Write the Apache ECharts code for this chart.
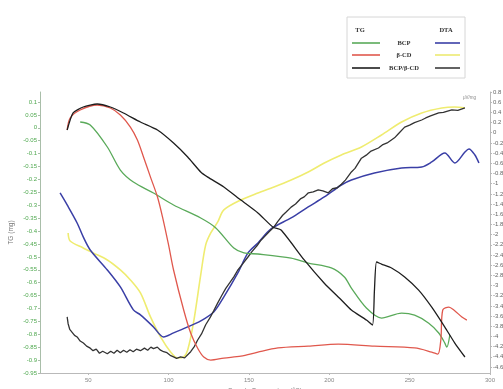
<!DOCTYPE html>
<html>
<head>
<meta charset="utf-8">
<script src="https://cdn.jsdelivr.net/npm/echarts@6/dist/echarts.min.js"></script>
<style>
  html, body { margin: 0; padding: 0; background: #fff; }
  #chart { width: 503px; height: 389px; }
</style>
</head>
<body>
<div id="chart"></div>
<script>
// Temperature ticks (°C)
const tempTicks = [50, 100, 150, 200, 250, 300];

// TG curves: temperature (°C) and mass change (mg)
const tgBcpTemp = [45, 51.25, 61.9, 70, 78.1, 90.6, 103.1, 120, 129.4, 140.6, 146.9, 155.6, 176.25, 186.9, 201.25, 209.4, 213.75, 223.1, 232.5, 245, 253.1, 261.9, 268.1, 271.9, 273.1, 275];
const tgBcpMass = [0.0225, 0.0109, -0.0744, -0.1636, -0.210, -0.2527, -0.299, -0.3496, -0.388, -0.466, -0.485, -0.489, -0.505, -0.524, -0.543, -0.578, -0.621, -0.698, -0.737, -0.718, -0.726, -0.757, -0.795, -0.834, -0.850, -0.803];

const tgCdTemp = [36.9, 38.75, 45, 55.6, 63.75, 70, 76.25, 80.6, 84.4, 88.75, 93.1, 96.25, 100, 103.1, 109.4, 113.75, 118.1, 121.9, 126.25, 134.4, 145, 155.6, 168.1, 186.9, 205.6, 228.1, 253.1, 263.75, 267.5, 269.4, 270.6, 274.4, 277.5, 282.5, 285.6];
const tgCdMass = [-0.0085, 0.038, 0.069, 0.0884, 0.0767, 0.0496, 0.0031, -0.0473, -0.113, -0.191, -0.268, -0.346, -0.454, -0.551, -0.706, -0.795, -0.854, -0.888, -0.900, -0.892, -0.885, -0.869, -0.853, -0.846, -0.838, -0.846, -0.853, -0.869, -0.877, -0.822, -0.706, -0.695, -0.706, -0.733, -0.745];

const tgMixTemp = [36.9, 40.6, 46.9, 55.6, 63.75, 71.9, 82.5, 93.1, 103.1, 111.9, 120, 124.4, 134.4, 145, 155.6, 165, 170, 184.4, 196.9, 207.5, 213.75, 223.1, 226.9, 228.1, 229.4, 232.5, 238.75, 246.9, 255.6, 263.75, 271.9, 278.1, 284.4];
const tgMixMass = [-0.0085, 0.0574, 0.0806, 0.0922, 0.0806, 0.0574, 0.0225, -0.0085, -0.0589, -0.113, -0.171, -0.191, -0.229, -0.280, -0.330, -0.385, -0.396, -0.512, -0.602, -0.667, -0.706, -0.745, -0.764, -0.629, -0.520, -0.528, -0.543, -0.578, -0.629, -0.695, -0.772, -0.834, -0.888];

// DTA curves: temperature (°C) and heat-flow signal (μV/mg)
const dtaBcpTemp = [32.5, 36.9, 43.1, 46.9, 51.25, 61.9, 70, 78.1, 82.5, 90.6, 96.9, 103.1, 111.9, 120, 128.1, 134.4, 143.1, 149.4, 155.6, 163.75, 176.25, 186.9, 196.9, 207.5, 213.75, 228.1, 245, 257.5, 263.75, 271.9, 278.1, 284.4, 286.9, 290.6, 293.1];
const dtaBcpSignal = [-1.183, -1.418, -1.772, -2.046, -2.302, -2.694, -3.028, -3.479, -3.577, -3.813, -4.009, -3.931, -3.813, -3.695, -3.519, -3.224, -2.753, -2.360, -2.164, -1.889, -1.673, -1.457, -1.261, -1.026, -0.927, -0.790, -0.692, -0.672, -0.574, -0.397, -0.594, -0.378, -0.319, -0.437, -0.594];

const dtaCdTemp = [37.5, 38.75, 46.9, 53.1, 61.9, 70, 76.25, 82.5, 88.75, 95, 101.25, 105.6, 109.4, 111.9, 115.6, 120, 123.1, 126.25, 130.6, 134.4, 145, 155.6, 165.6, 176.25, 186.9, 196.9, 207.5, 220, 232.5, 245, 257.5, 270, 278.1, 284.4];
const dtaCdSignal = [-1.968, -2.125, -2.262, -2.360, -2.498, -2.694, -2.890, -3.146, -3.617, -4.009, -4.304, -4.422, -4.402, -4.265, -3.715, -2.792, -2.203, -1.968, -1.752, -1.516, -1.320, -1.183, -1.065, -0.927, -0.770, -0.594, -0.437, -0.280, -0.044, 0.211, 0.388, 0.486, 0.506, 0.486];

const dtaMixTemp = [36.9, 37.5, 38.5, 40, 41.5, 43.1, 45, 47, 49, 51.25, 53, 55, 57, 59, 61.9, 64, 66, 68, 70, 72, 74, 76, 78, 80, 82.5, 85, 87, 89, 90.6, 93, 95, 96.9, 99, 101, 103.1, 105, 107.5, 110, 113.75, 116, 118.1, 120.5, 123.1, 126, 128, 130.6, 133, 135.5, 138, 140.6, 143, 146, 149.4, 152, 155, 157.5, 160, 163, 165.6, 168, 171, 173, 176.25, 179, 182, 184.4, 187, 190, 193.1, 196, 199.4, 202, 205, 207.5, 210, 213.75, 216, 220, 223, 226, 230.6, 233, 236, 240.6, 243, 246.9, 250, 253, 257.5, 260, 263, 268.1, 271, 276.25, 280, 284.4];
const dtaMixSignal = [-3.617, -3.75, -3.86, -3.92, -3.98, -4.01, -4.09, -4.13, -4.19, -4.23, -4.28, -4.25, -4.33, -4.29, -4.34, -4.29, -4.33, -4.27, -4.32, -4.27, -4.31, -4.26, -4.30, -4.25, -4.28, -4.23, -4.27, -4.21, -4.24, -4.21, -4.27, -4.30, -4.32, -4.37, -4.40, -4.43, -4.40, -4.42, -4.30, -4.20, -4.07, -3.95, -3.77, -3.62, -3.50, -3.34, -3.20, -3.06, -2.95, -2.83, -2.70, -2.58, -2.44, -2.33, -2.22, -2.11, -2.03, -1.93, -1.85, -1.74, -1.62, -1.56, -1.46, -1.40, -1.30, -1.26, -1.18, -1.16, -1.12, -1.14, -1.18, -1.10, -1.08, -1.01, -0.93, -0.77, -0.70, -0.50, -0.44, -0.36, -0.30, -0.24, -0.20, -0.10, -0.02, 0.11, 0.15, 0.20, 0.25, 0.29, 0.33, 0.39, 0.40, 0.45, 0.44, 0.49];

const zip = (xs, ys) => xs.map((x, i) => [x, ys[i]]);

const axisGrey = '#b9b9b9';
const tickFont = { fontSize: 6, fontFamily: 'Liberation Sans, Arial, sans-serif' };

const hiddenX = (gridIndex) => ({
  type: 'value', gridIndex, min: 20, max: 300, show: false
});

const lineSeries = (name, xAxisIndex, yAxisIndex, data, color, width) => ({
  name, type: 'line', xAxisIndex, yAxisIndex, data,
  showSymbol: false, symbol: 'none', smooth: 0.3,
  lineStyle: { color, width: width || 1.4 },
  z: 3
});

// Legend drawn as a boxed two-column key (TG | DTA)
const legendLeft = 347, legendTop = 17;
const legendRows = [
  { label: 'BCP', tg: '#5aaa5a', dta: '#3a3fa6', y: 43 },
  { label: 'β-CD', tg: '#e0584d', dta: '#ecea72', y: 55 },
  { label: 'BCP/β-CD', tg: '#1e1e1e', dta: '#3c3c3c', y: 68 }
];
const legendFont = 'bold 6.5px "Liberation Serif", "DejaVu Serif", serif';
const legendGraphics = [
  { type: 'rect', shape: { x: legendLeft, y: legendTop, width: 118, height: 61 },
    style: { fill: '#fff', stroke: '#d6d6d6', lineWidth: 1 } },
  { type: 'text', x: 360, y: 30, style: { text: 'TG', font: legendFont, fill: '#333', align: 'center', verticalAlign: 'middle' } },
  { type: 'text', x: 446, y: 30, style: { text: 'DTA', font: legendFont, fill: '#333', align: 'center', verticalAlign: 'middle' } }
];
legendRows.forEach(r => {
  legendGraphics.push(
    { type: 'line', shape: { x1: 352, y1: r.y, x2: 380, y2: r.y }, style: { stroke: r.tg, lineWidth: 1.6 } },
    { type: 'text', x: 404, y: r.y, style: { text: r.label, font: legendFont, fill: '#333', align: 'center', verticalAlign: 'middle' } },
    { type: 'line', shape: { x1: 435, y1: r.y, x2: 460, y2: r.y }, style: { stroke: r.dta, lineWidth: 1.6 } }
  );
});

const gridBase = { left: 40, right: 13, containLabel: false, outerBoundsMode: 'none' };

const chart = echarts.init(document.getElementById('chart'), null, { renderer: 'canvas' });
chart.setOption({
  animation: false,
  backgroundColor: '#ffffff',
  grid: [
    Object.assign({ top: 92, bottom: 16 }, gridBase),   // frame + temperature axis
    Object.assign({ top: 102, bottom: 16 }, gridBase),  // TG scale
    Object.assign({ top: 92, bottom: 22 }, gridBase)    // DTA scale
  ],
  xAxis: [
    {
      type: 'value', gridIndex: 0, min: 20, max: 300,
      name: 'Sample Temperature (°C)', nameLocation: 'middle', nameGap: 12,
      nameTextStyle: { fontSize: 6.5, color: '#888', fontFamily: 'Liberation Sans, Arial, sans-serif' },
      axisLine: { lineStyle: { color: axisGrey, width: 1 } },
      axisTick: { show: true, length: 2, customValues: tempTicks, lineStyle: { color: axisGrey } },
      axisLabel: Object.assign({ customValues: tempTicks, color: '#888', margin: 4 }, tickFont),
      splitLine: { show: false }
    },
    hiddenX(1),
    hiddenX(2)
  ],
  yAxis: [
    {
      type: 'value', gridIndex: 0, min: 0, max: 1, position: 'left',
      name: 'TG (mg)', nameLocation: 'middle', nameGap: 25, nameRotate: 90,
      nameTextStyle: { fontSize: 6.5, color: '#777', fontFamily: 'Liberation Sans, Arial, sans-serif' },
      axisLine: { show: true, lineStyle: { color: '#a9bea9', width: 1 } },
      axisTick: { show: false }, axisLabel: { show: false }, splitLine: { show: false }
    },
    {
      type: 'value', gridIndex: 0, min: 0, max: 1, position: 'right',
      axisLine: { show: true, lineStyle: { color: axisGrey, width: 1 } },
      axisTick: { show: false }, axisLabel: { show: false }, splitLine: { show: false }
    },
    {
      type: 'value', gridIndex: 1, min: -0.95, max: 0.1, interval: 0.05, position: 'left',
      axisLine: { show: false },
      axisTick: { show: true, length: 2, lineStyle: { color: '#a9bea9' } },
      axisLabel: Object.assign({ color: '#4ea84e', margin: 3,
        formatter: v => String(+v.toFixed(2)) }, tickFont),
      splitLine: { show: false }
    },
    {
      type: 'value', gridIndex: 2, min: -4.6, max: 0.8, interval: 0.2, position: 'right',
      name: 'μV/mg', nameLocation: 'end', nameGap: 2,
      nameTextStyle: { fontSize: 4.5, color: '#888', align: 'right', padding: [0, 14, -10, 0] },
      axisLine: { show: false },
      axisTick: { show: true, length: 2, lineStyle: { color: axisGrey } },
      axisLabel: Object.assign({ color: '#666', margin: 3,
        formatter: v => String(+v.toFixed(1)) }, tickFont),
      splitLine: { show: false }
    }
  ],
  series: [
    lineSeries('DTA β-CD', 2, 3, zip(dtaCdTemp, dtaCdSignal), '#efec70', 1.6),
    lineSeries('DTA BCP', 2, 3, zip(dtaBcpTemp, dtaBcpSignal), '#3a3fa6', 1.5),
    Object.assign(lineSeries('DTA BCP/β-CD', 2, 3, zip(dtaMixTemp, dtaMixSignal), '#333333', 1.3), { smooth: false }),
    lineSeries('TG BCP', 1, 2, zip(tgBcpTemp, tgBcpMass), '#5aaa5a', 1.3),
    lineSeries('TG β-CD', 1, 2, zip(tgCdTemp, tgCdMass), '#e0584d', 1.3),
    Object.assign(lineSeries('TG BCP/β-CD', 1, 2, zip(tgMixTemp, tgMixMass), '#1e1e1e', 1.3), { smooth: 0.2 })
  ],
  graphic: legendGraphics
});
</script>
</body>
</html>
